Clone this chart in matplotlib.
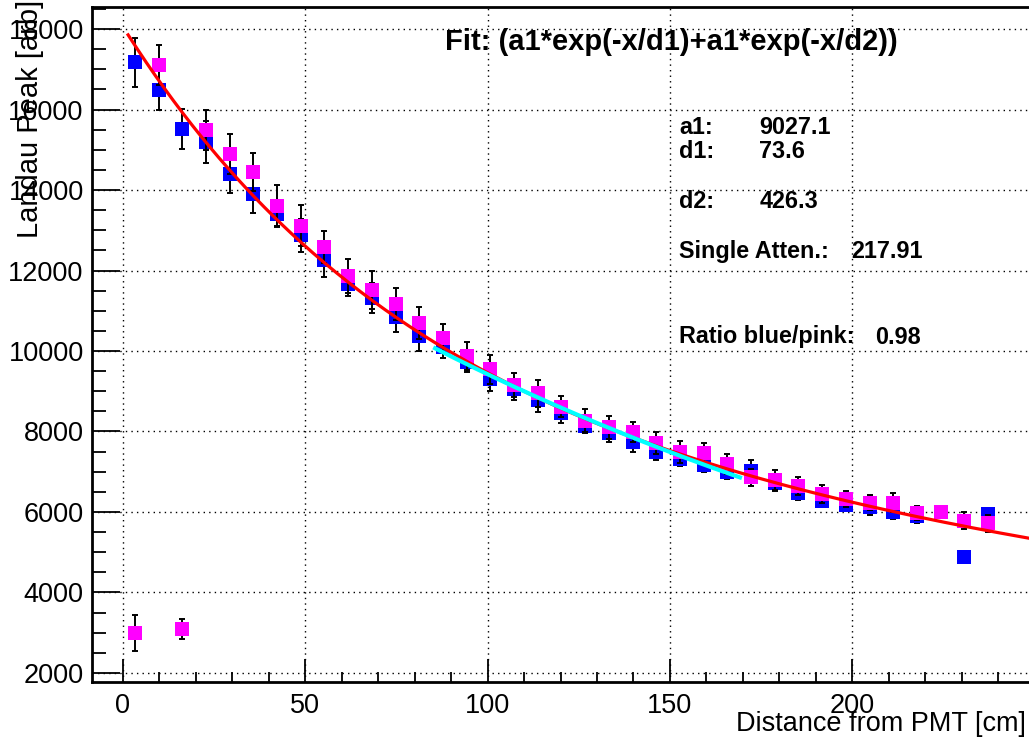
import numpy as np
import matplotlib.pyplot as plt
from matplotlib.ticker import MultipleLocator

plt.rcParams['font.family'] = ['Liberation Sans', 'DejaVu Sans']

# distance from PMT [cm]
dist = [3.25, 9.75, 16.25, 22.75, 29.25, 35.75, 42.25, 48.75, 55.25, 61.75,
        68.25, 74.75, 81.25, 87.75, 94.25, 100.75, 107.25, 113.75, 120.25, 126.75,
        133.25, 139.75, 146.25, 152.75, 159.25, 165.75, 172.25, 178.75, 185.25, 191.75,
        198.25, 204.75, 211.25, 217.75, 224.25, 230.75, 237.25]

# landau peak, blue side
blue_peak = [17170, 16490, 15520, 15200, 14400, 13890, 13400, 12880, 12260, 11670,
             11310, 10850, 10380, 10110, 9735, 9300, 9050, 8780, 8450, 8140,
             7955, 7750, 7500, 7310, 7170, 7000, 7030, 6710, 6480, 6280,
             6180, 6120, 6010, 5900, 6010, 4870, 5950]
blue_err = [610, 510, 490, 520, 480, 460, 300, 410, 430, 300,
            370, 390, 380, 290, 265, 305, 265, 290, 250, 165,
            210, 250, 205, 165, 165, 190, 265, 185, 180, 150,
            130, 190, 175, 165, 0, 0, 25]

# landau peak, pink side
pink_peak = [2990, 17110, 3090, 15490, 14900, 14450, 13610, 13110, 12590, 11860,
             11520, 11170, 10700, 10320, 9885, 9545, 9155, 8950, 8615, 8270,
             8105, 7995, 7705, 7500, 7460, 7195, 6860, 6795, 6645, 6445,
             6330, 6230, 6230, 5970, 6010, 5785, 5720]
pink_err = [450, 500, 240, 500, 500, 470, 520, 510, 400, 415,
            480, 405, 400, 355, 350, 355, 305, 330, 265, 290,
            290, 250, 275, 275, 265, 250, 215, 250, 230, 225,
            200, 190, 235, 180, 0, 210, 210]

# fit parameters
a1, d1, d2 = 9027.1, 73.6, 426.3
single_atten = 217.91
single_norm = 14910
ratio = 0.98
fit_range = (1.4, 249.5)
single_range = (85.6, 169.2)

W, H = 1029, 742
fig = plt.figure(figsize=(W / 100, H / 100), dpi=100)
ax = fig.add_axes([92 / W, 60 / H, 940 / W, 675 / H])

ax.grid(True, which='major', color='black', linestyle=(0, (1, 3)), linewidth=1.0, zorder=0)

ax.errorbar(dist, blue_peak, yerr=blue_err, fmt='none', ecolor='black',
            elinewidth=1.4, capsize=2.5, capthick=1.4, zorder=2)
ax.plot(dist, blue_peak, 's', color='#0000ff', markersize=9.5, markeredgewidth=0, zorder=3)
ax.errorbar(dist, pink_peak, yerr=pink_err, fmt='none', ecolor='black',
            elinewidth=1.4, capsize=2.5, capthick=1.4, zorder=4)
ax.plot(dist, pink_peak, 's', color='#ff00ff', markersize=9.5, markeredgewidth=0, zorder=5)

xf = np.linspace(*fit_range, 300)
ax.plot(xf, a1 * np.exp(-xf / d1) + a1 * np.exp(-xf / d2), color='#ff0000', lw=2.3, zorder=6)
xs = np.linspace(*single_range, 200)
ax.plot(xs, single_norm * np.exp(-xs / single_atten), color='#00ffff', lw=3.0, zorder=7)

ax.set_xlim(-8.5, 249.3)
ax.set_ylim(1776, 18547)
ax.set_xticks([0, 50, 100, 150, 200])
ax.xaxis.set_minor_locator(MultipleLocator(10))
ax.set_yticks(np.arange(2000, 18001, 2000))
ax.yaxis.set_minor_locator(MultipleLocator(500))

ax.tick_params(axis='both', which='both', direction='in', colors='black', labelsize=19.5)
ax.tick_params(axis='x', which='major', length=16.5, width=1.3, pad=8)
ax.tick_params(axis='x', which='minor', length=7.2, width=1.3)
ax.tick_params(axis='y', which='major', length=20, width=1.3, pad=6)
ax.tick_params(axis='y', which='minor', length=10, width=1.3)

for s in ax.spines.values():
    s.set_linewidth(2)

ax.set_xlabel('Distance from PMT [cm]', fontsize=19.5, loc='right')
ax.xaxis.set_label_coords((1026 - 92) / 940, (682 - 711) / 675)
ax.set_ylabel('Landau Peak [arb]', fontsize=21, loc='top')
ax.yaxis.set_label_coords((44 - 92) / 940, (682 - 0) / 675)


def px(x, y):
    return x / W, 1 - y / H


fig.text(*px(445, 42), 'Fit: (a1*exp(-x/d1)+a1*exp(-x/d2))', fontsize=21,
         fontweight='bold', va='center', ha='left')
rows = [('a1:', f'{a1:.1f}', 127, 759),
        ('d1:', f'{d1:.1f}', 152, 759),
        ('d2:', f'{d2:.1f}', 202, 760),
        ('Single Atten.:', f'{single_atten:.2f}', 252, 851),
        ('Ratio blue/pink:', f'{ratio:.2f}', 337, 875)]
for name, val, y, xv in rows:
    fig.text(*px(679, y), name, fontsize=16.8, fontweight='bold', va='center', ha='left')
    fig.text(*px(xv, y), val, fontsize=16.8, fontweight='bold', va='center', ha='left')

fig.savefig('out.png', dpi=100, facecolor='white')
